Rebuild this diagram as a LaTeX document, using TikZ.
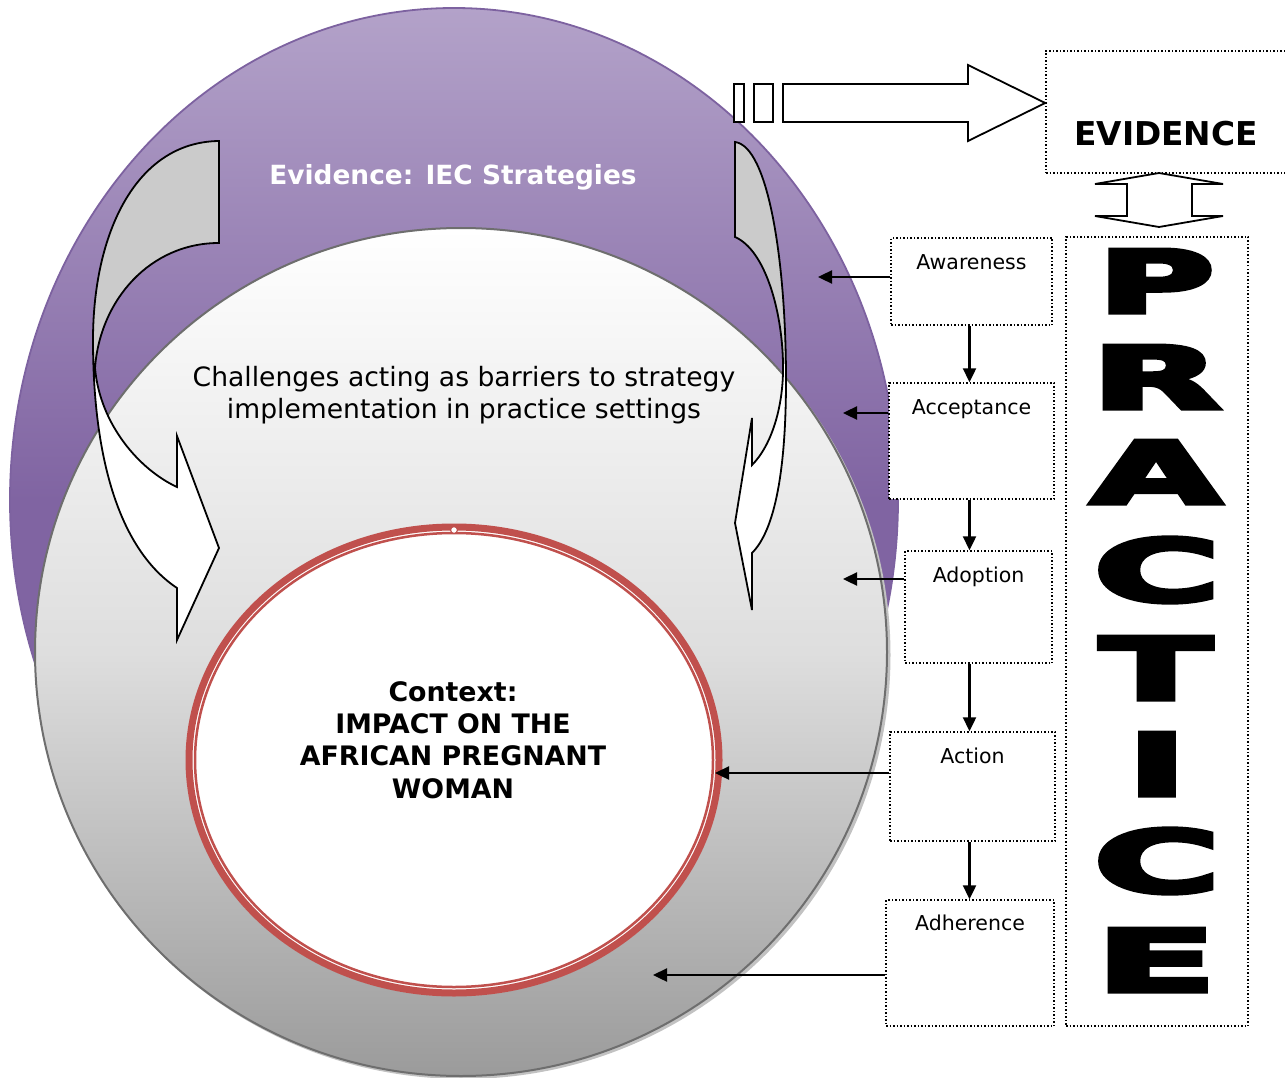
\documentclass[tikz,border=0pt]{standalone}
\usepackage{fontspec}
\setmainfont{DejaVu Sans}
\newfontface\heavyfont{DejaVu Sans Bold}[FakeBold=5]
\usetikzlibrary{arrows.meta,calc}
\definecolor{lilac}{HTML}{B3A2C9}
\definecolor{violet}{HTML}{8064A2}
\definecolor{violetrim}{HTML}{7D62A0}
\definecolor{rimred}{HTML}{C0504D}
\definecolor{rimgray}{HTML}{6E6E6E}
\definecolor{shadowgray}{HTML}{C2C2C2}
\definecolor{midgray}{HTML}{DEDEDE}
\definecolor{lowgray}{HTML}{9B9B9B}
\definecolor{panelgray}{HTML}{CBCBCB}

% outline of the large curved arrow on the left
\newcommand\leftbandpath{(219,141) .. controls (135,142) and (93,235) .. (93,340)
  .. controls (93,460) and (120,550) .. (177,588) -- (177,640) -- (219,548)
  -- (177,436) -- (177,487) .. controls (140,470) and (100,425) .. (95,368)
  .. controls (100,300) and (150,243) .. (219,243) -- cycle}
% outline of the slim curved arrow on the right
\newcommand\rightbandpath{(735,142) .. controls (768,146) and (786,260) .. (786,380)
  .. controls (786,470) and (775,530) .. (752,553) -- (752,610) -- (735,523)
  -- (752,418) -- (752,465) .. controls (772,445) and (784,405) .. (783,363)
  .. controls (782,310) and (765,250) .. (735,237) -- cycle}

\begin{document}
\begin{tikzpicture}[x=1pt,y=-1pt,
  dotbox/.style={draw, line width=1.5pt, dash pattern=on 1.5pt off 2pt, fill=white,
    inner sep=0pt},
  link/.style={line width=2.4pt, -{Triangle[length=14pt,width=13pt]}},
  stage/.style={font=\fontsize{20.5}{24}\selectfont, anchor=base, inner sep=0pt},
  bigletter/.style={font=\heavyfont\fontsize{86}{90}\selectfont, inner sep=0pt},
  hollow/.style={draw, line width=1.8pt, fill=white, line join=miter},
  band/.style={draw, line width=1.8pt, line join=miter}]
\useasboundingbox (0,0) rectangle (1285,1078);

% outer evidence ellipse
\shade[top color=lilac, bottom color=violet, middle color=violet]
  (454,500) ellipse [x radius=444pt, y radius=492pt];
\draw[violetrim, line width=1.8pt] (454,500) ellipse [x radius=444pt, y radius=492pt];

% challenges disc with its shadow
\fill[shadowgray] (463.5,655) ellipse [x radius=427pt, y radius=424pt];
\shade[top color=white, bottom color=lowgray, middle color=midgray]
  (461,652) ellipse [x radius=426pt, y radius=424pt];
\draw[rimgray, line width=2pt] (461,652) ellipse [x radius=426pt, y radius=424pt];

% context disc with double red rim
\fill[white] (454,760) ellipse [x radius=268pt, y radius=236pt];
\draw[rimred, line width=7pt] (454,760) ellipse [x radius=265pt, y radius=233pt];
\draw[rimred, line width=2.5pt] (454,760) ellipse [x radius=259pt, y radius=227pt];
\draw[rimred, line width=1.2pt, fill=white] (454,530) circle [radius=3.5pt];

% texts inside the discs
\node[text=white, font=\bfseries\fontsize{26.4}{30}\selectfont] (evtitle) at (453,177)
  {Evidence: IEC Strategies};
\node[align=center, font=\fontsize{26.6}{32}\selectfont] (barriers) at (464,395)
  {Challenges acting as barriers to strategy\\implementation in practice settings};
\node[align=center, font=\bfseries\fontsize{26.8}{32.3}\selectfont] (context) at (453,740)
  {Context:\\IMPACT ON THE\\AFRICAN PREGNANT\\WOMAN};

% curved arrows: grey back part above the crossing, white front part below
\fill[white] \leftbandpath;
\begin{scope}
  \clip (0,0) rectangle (400,368);
  \fill[panelgray] \leftbandpath;
\end{scope}
\draw[band] \leftbandpath;

\fill[white] \rightbandpath;
\begin{scope}
  \clip (600,0) rectangle (900,363);
  \fill[panelgray] \rightbandpath;
\end{scope}
\draw[band] \rightbandpath;

% evidence box and practice column
\node[dotbox, minimum width=244pt, minimum height=122pt] (evbox) at (1168,112) {};
\node[font=\bfseries\fontsize{32.8}{36}\selectfont, inner sep=0pt] (evlabel) at (1166,134) {EVIDENCE};
\node[dotbox, minimum width=182pt, minimum height=789pt] (practice) at (1157,631.5) {};

% striped arrow leading into the evidence box
\draw[hollow] (734,84) rectangle (744,122);
\draw[hollow] (754,84) rectangle (773,122);
\draw[hollow] (783,84) -- (968,84) -- (968,65) -- (evbox.west |- 0,103) -- (968,141)
  -- (968,122) -- (783,122) -- cycle;

% two-headed arrow between evidence and practice
\draw[hollow] (1159,173) -- (1223,184) -- (1192,184) -- (1192,216) -- (1223,216)
  -- (1159,227) -- (1095,216) -- (1127,216) -- (1127,184) -- (1095,184) -- cycle;

% PRACTICE letters
\node[bigletter, xscale=1.85] (lp)  at (1156,281) {P};
\node[bigletter, xscale=1.95] (lr)  at (1156,377) {R};
\node[bigletter, xscale=1.95] (la)  at (1156,472) {A};
\node[bigletter, xscale=2.0]  (lc)  at (1157,570) {C};
\node[bigletter, xscale=1.9]  (lt)  at (1156,668) {T};
\node[bigletter, xscale=1.85] (li)  at (1157,764) {I};
\node[bigletter, xscale=2.0]  (lc2) at (1157,861) {C};
\node[bigletter, xscale=2.05] (le)  at (1156,960) {E};

% stage boxes
\node[dotbox, minimum width=161pt, minimum height=87pt]  (aw)  at (971.5,281.5) {};
\node[dotbox, minimum width=165pt, minimum height=116pt] (ac)  at (971.5,441) {};
\node[dotbox, minimum width=147pt, minimum height=112pt] (ad)  at (978.5,607) {};
\node[dotbox, minimum width=165pt, minimum height=109pt] (act) at (972.5,786.5) {};
\node[dotbox, minimum width=168pt, minimum height=126pt] (adh) at (970,963) {};

\node[stage] (awl)  at ([yshift=-32pt]aw.north)  {Awareness};
\node[stage] (acl)  at ([yshift=-32pt]ac.north)  {Acceptance};
\node[stage] (adl)  at ([yshift=-32pt]ad.north)  {Adoption};
\node[stage] (actl) at ([yshift=-32pt]act.north) {Action};
\node[stage] (adhl) at ([yshift=-31pt]adh.north) {Adherence};

% downward chain between stages
\coordinate (stem) at (969.5,0);
\draw[link] (aw.south -| stem)  -- (ac.north -| stem);
\draw[link] (ac.south -| stem)  -- (ad.north -| stem);
\draw[link] (ad.south -| stem)  -- (act.north -| stem);
\draw[link] (act.south -| stem) -- (adh.north -| stem);

% arrows from each stage towards the discs
\coordinate (t1) at (818,277);
\coordinate (t2) at (843,413);
\coordinate (t3) at (843,579);
\coordinate (t4) at (715,773);
\coordinate (t5) at (653,975);
\draw[link] (aw.west |- t1)  -- (t1);
\draw[link] (ac.west |- t2)  -- (t2);
\draw[link] (ad.west |- t3)  -- (t3);
\draw[link] (act.west |- t4) -- (t4);
\draw[link] (adh.west |- t5) -- (t5);
\end{tikzpicture}
\end{document}
